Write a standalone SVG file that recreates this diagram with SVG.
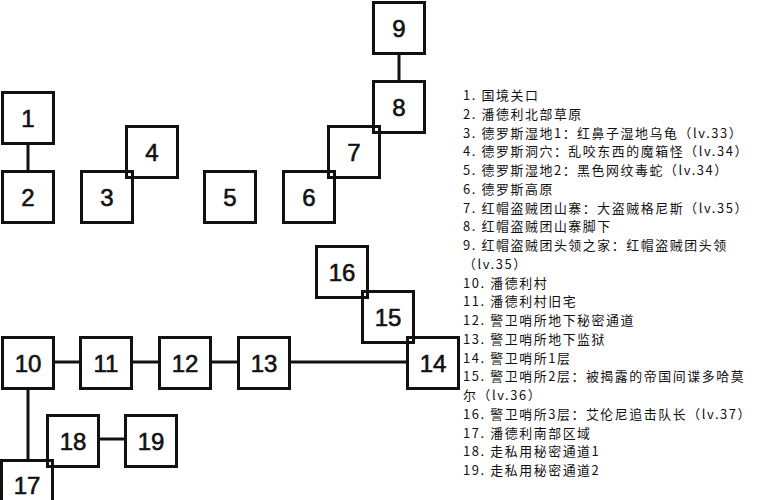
<svg xmlns="http://www.w3.org/2000/svg" width="761" height="500" viewBox="0 0 761 500">
<style>
.box rect{fill:none;stroke:#111;stroke-width:3}
.box text{font-family:"Liberation Sans",Arial,sans-serif;font-size:24px;fill:#111;stroke:#111;stroke-width:0.6px;text-anchor:middle}
.conn line{stroke:#111;stroke-width:3}
.legend text{font-family:"Noto Sans CJK SC","Noto Sans",sans-serif;font-size:12.9px;letter-spacing:1.6px;fill:#111}
</style>
<rect width="761" height="500" fill="#fff"/>
<g class="conn" id="connectors">
<line x1="28" y1="145" x2="28" y2="170"/>
<line x1="399" y1="55" x2="399" y2="80"/>
<line x1="55" y1="362" x2="79" y2="362"/>
<line x1="133" y1="362" x2="158" y2="362"/>
<line x1="212" y1="362" x2="237" y2="362"/>
<line x1="291" y1="362" x2="406" y2="362"/>
<line x1="28" y1="390" x2="28" y2="459"/>
<line x1="100" y1="439" x2="124" y2="439"/>
</g>
<g class="box" id="node1"><rect x="2.5" y="92.5" width="51" height="51"/><text x="28" y="126.5">1</text></g>
<g class="box" id="node2"><rect x="2.5" y="171.5" width="51" height="51"/><text x="28" y="205.5">2</text></g>
<g class="box" id="node3"><rect x="81.5" y="171.5" width="51" height="51"/><text x="107" y="205.5">3</text></g>
<g class="box" id="node4"><rect x="126.5" y="126.5" width="51" height="51"/><text x="152" y="160.5">4</text></g>
<g class="box" id="node5"><rect x="204.5" y="171.5" width="51" height="51"/><text x="230" y="205.5">5</text></g>
<g class="box" id="node6"><rect x="283.5" y="171.5" width="51" height="51"/><text x="309" y="205.5">6</text></g>
<g class="box" id="node7"><rect x="328.5" y="126.5" width="51" height="51"/><text x="354" y="160.5">7</text></g>
<g class="box" id="node8"><rect x="373.5" y="81.5" width="51" height="51"/><text x="399" y="115.5">8</text></g>
<g class="box" id="node9"><rect x="373.5" y="2.5" width="51" height="51"/><text x="399" y="36.5">9</text></g>
<g class="box" id="node10"><rect x="2.5" y="337.5" width="51" height="51"/><text x="28" y="371.5">10</text></g>
<g class="box" id="node11"><rect x="80.5" y="337.5" width="51" height="51"/><text x="106" y="371.5">11</text></g>
<g class="box" id="node12"><rect x="159.5" y="337.5" width="51" height="51"/><text x="185" y="371.5">12</text></g>
<g class="box" id="node13"><rect x="238.5" y="337.5" width="51" height="51"/><text x="264" y="371.5">13</text></g>
<g class="box" id="node14"><rect x="407.5" y="337.5" width="51" height="51"/><text x="433" y="371.5">14</text></g>
<g class="box" id="node15"><rect x="362.5" y="291.5" width="51" height="51"/><text x="388" y="325.5">15</text></g>
<g class="box" id="node16"><rect x="316.5" y="246.5" width="51" height="51"/><text x="342" y="280.5">16</text></g>
<g class="box" id="node17"><rect x="1.5" y="460.5" width="51" height="51"/><text x="27" y="494">17</text></g>
<g class="box" id="node18"><rect x="47.5" y="415.5" width="51" height="51"/><text x="73" y="449.5">18</text></g>
<g class="box" id="node19"><rect x="125.5" y="415.5" width="51" height="51"/><text x="151" y="449.5">19</text></g>
<g class="legend" id="legend">
<text x="463" y="100">1. 国境关口</text>
<text x="463" y="118.75">2. 潘德利北部草原</text>
<text x="463" y="137.5">3. 德罗斯湿地1：红鼻子湿地乌龟（lv.33）</text>
<text x="463" y="156.25">4. 德罗斯洞穴：乱咬东西的魔箱怪（lv.34）</text>
<text x="463" y="175">5. 德罗斯湿地2：黑色网纹毒蛇（lv.34）</text>
<text x="463" y="193.75">6. 德罗斯高原</text>
<text x="463" y="212.5">7. 红帽盗贼团山寨：大盗贼格尼斯（lv.35）</text>
<text x="463" y="231.25">8. 红帽盗贼团山寨脚下</text>
<text x="463" y="250">9. 红帽盗贼团头领之家：红帽盗贼团头领</text>
<text x="463" y="268.75">（lv.35）</text>
<text x="463" y="287.5">10. 潘德利村</text>
<text x="463" y="306.25">11. 潘德利村旧宅</text>
<text x="463" y="325">12. 警卫哨所地下秘密通道</text>
<text x="463" y="343.75">13. 警卫哨所地下监狱</text>
<text x="463" y="362.5">14. 警卫哨所1层</text>
<text x="463" y="381.25">15. 警卫哨所2层：被揭露的帝国间谍多哈莫</text>
<text x="463" y="400">尔（lv.36）</text>
<text x="463" y="418.75">16. 警卫哨所3层：艾伦尼追击队长（lv.37）</text>
<text x="463" y="437.5">17. 潘德利南部区域</text>
<text x="463" y="456.25">18. 走私用秘密通道1</text>
<text x="463" y="475">19. 走私用秘密通道2</text>
</g>
</svg>
